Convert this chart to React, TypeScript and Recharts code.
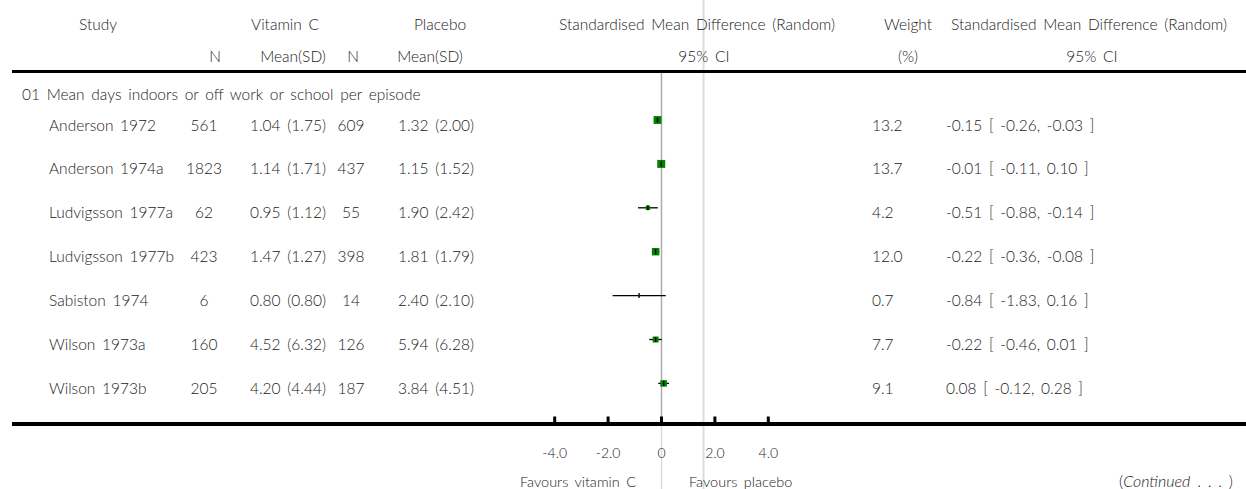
import React from 'react';
import { ScatterChart, Scatter, XAxis, YAxis, ErrorBar, ReferenceLine } from 'recharts';

// table data
const studies = ['Anderson 1972', 'Anderson 1974a', 'Ludvigsson 1977a', 'Ludvigsson 1977b', 'Sabiston 1974', 'Wilson 1973a', 'Wilson 1973b'];
const vitaminN = [561, 1823, 62, 423, 6, 160, 205];
const vitaminMeanSd = ['1.04 (1.75)', '1.14 (1.71)', '0.95 (1.12)', '1.47 (1.27)', '0.80 (0.80)', '4.52 (6.32)', '4.20 (4.44)'];
const placeboN = [609, 437, 55, 398, 14, 126, 187];
const placeboMeanSd = ['1.32 (2.00)', '1.15 (1.52)', '1.90 (2.42)', '1.81 (1.79)', '2.40 (2.10)', '5.94 (6.28)', '3.84 (4.51)'];
const weights = [13.2, 13.7, 4.2, 12.0, 0.7, 7.7, 9.1];
const smd = [-0.15, -0.01, -0.51, -0.22, -0.84, -0.22, 0.08];
const ciLow = [-0.26, -0.11, -0.88, -0.36, -1.83, -0.46, -0.12];
const ciHigh = [-0.03, 0.1, -0.14, -0.08, 0.16, 0.01, 0.28];
const xTicks = [-4, -2, 0, 2, 4];
const subgroup = '01 Mean days indoors or off work or school per episode';

const rows = studies.map((s, i) => ({
  row: i,
  smd: smd[i],
  err: [smd[i] - ciLow[i], ciHigh[i] - smd[i]],
  weight: weights[i],
}));

const W = 1246;
const H = 489;
const ROW0 = 120; // pixel centre of first study row
const ROW_H = 43.9;
const PLOT_TOP = 72;
const PLOT_BOTTOM = 424;
const toRow = (px: number) => (px - ROW0) / ROW_H;

const FONT = 'Lato, "Open Sans", sans-serif';
const INK = '#222';

function Txt({ x, y, align = 'left', size = 15.5, children, style }: any) {
  const tx = align === 'center' ? '-50%' : align === 'right' ? '-100%' : '0';
  return (
    <div
      style={{
        position: 'absolute',
        left: x,
        top: y,
        transform: `translate(${tx}, -50%)`,
        fontFamily: FONT,
        fontSize: size,
        fontWeight: 300,
        color: INK,
        lineHeight: 1,
        wordSpacing: 2.5,
        whiteSpace: 'pre',
        ...style,
      }}
    >
      {children}
    </div>
  );
}

const AxisTick = (props: any) => {
  const { x, y, payload } = props;
  const v = payload.value;
  return (
    <g>
      <line x1={x} x2={x} y1={y - 7.5} y2={y} stroke="#000" strokeWidth={3} />
      <text x={x} y={y + 28} textAnchor="middle" dominantBaseline="central" fontFamily={FONT} fontWeight={300} fontSize={14} fill={INK}>
        {v === 0 ? '0' : v.toFixed(1)}
      </text>
    </g>
  );
};

const Square = (props: any) => {
  const { cx, cy, payload } = props;
  const s = 2.15 * Math.sqrt(payload.weight);
  return <rect x={cx - s / 2} y={cy - s / 2} width={s} height={s} fill="#008000" />;
};

const PointTick = (props: any) => {
  const { cx, cy } = props;
  return <line x1={cx} x2={cx} y1={cy - 2.5} y2={cy + 2.5} stroke="#000" strokeWidth={1.3} />;
};

export default function App() {
  return (
    <div style={{ position: 'absolute', left: 0, top: 0, width: W, height: H, background: '#fff', overflow: 'hidden' }}>
      <ScatterChart width={W} height={H} margin={{ top: PLOT_TOP, right: 451, bottom: 0, left: 528 }} accessibilityLayer={false}>
        <XAxis
          type="number"
          dataKey="smd"
          domain={[-5, 5]}
          ticks={xTicks}
          allowDataOverflow
          height={H - PLOT_BOTTOM}
          axisLine={false}
          tickLine={false}
          tickSize={0}
          tickMargin={0}
          tick={<AxisTick />}
          interval={0}
        />
        <YAxis type="number" dataKey="row" domain={[toRow(PLOT_TOP), toRow(PLOT_BOTTOM)]} reversed allowDataOverflow hide />
        <ReferenceLine
          segment={[{ x: 1.575, y: toRow(0) }, { x: 1.575, y: toRow(H) }]}
          stroke="#dcdcdc"
          strokeWidth={2}
          ifOverflow="visible"
        />
        <ReferenceLine
          segment={[{ x: 0, y: toRow(PLOT_BOTTOM) }, { x: 0, y: toRow(H) }]}
          stroke="#dcdcdc"
          strokeWidth={1.5}
          ifOverflow="visible"
        />
        <ReferenceLine x={0} stroke="#acacac" strokeWidth={1.5} />
        <Scatter data={rows} shape={<Square />} isAnimationActive={false} />
        <Scatter data={rows} shape={<PointTick />} isAnimationActive={false}>
          <ErrorBar dataKey="err" direction="x" width={0} stroke="#000" strokeWidth={1.3} />
        </Scatter>
      </ScatterChart>

      {/* rules */}
      <div style={{ position: 'absolute', left: 12, top: 70.3, width: W - 12, height: 3, background: '#000' }} />
      <div style={{ position: 'absolute', left: 12, top: 422, width: W - 12, height: 4, background: '#000' }} />

      {/* header */}
      <Txt x={98} y={25} align="center">Study</Txt>
      <Txt x={285} y={25} align="center">Vitamin C</Txt>
      <Txt x={440} y={25} align="center">Placebo</Txt>
      <Txt x={697} y={25} align="center">Standardised Mean Difference (Random)</Txt>
      <Txt x={908} y={25} align="center">Weight</Txt>
      <Txt x={1089} y={25} align="center">Standardised Mean Difference (Random)</Txt>
      <Txt x={215} y={56.5} align="center">N</Txt>
      <Txt x={293} y={56.5} align="center">Mean(SD)</Txt>
      <Txt x={353} y={56.5} align="center">N</Txt>
      <Txt x={430} y={56.5} align="center">Mean(SD)</Txt>
      <Txt x={704} y={56.5} align="center">95% CI</Txt>
      <Txt x={908} y={56.5} align="center">(%)</Txt>
      <Txt x={1092} y={56.5} align="center">95% CI</Txt>

      <Txt x={22} y={95}>{subgroup}</Txt>

      {studies.map((s, i) => {
        const y = ROW0 + ROW_H * i + 5.5;
        return (
          <React.Fragment key={s}>
            <Txt x={49} y={y}>{s}</Txt>
            <Txt x={204} y={y} align="center">{vitaminN[i]}</Txt>
            <Txt x={250} y={y}>{vitaminMeanSd[i]}</Txt>
            <Txt x={351} y={y} align="center">{placeboN[i]}</Txt>
            <Txt x={398} y={y}>{placeboMeanSd[i]}</Txt>
            <Txt x={872} y={y}>{weights[i].toFixed(1)}</Txt>
            <Txt x={946} y={y}>
              {`${smd[i].toFixed(2)} [ ${ciLow[i].toFixed(2)}, ${ciHigh[i].toFixed(2)} ]`}
            </Txt>
          </React.Fragment>
        );
      })}

      <Txt x={636} y={481.5} align="right" size={14.5}>Favours vitamin C</Txt>
      <Txt x={689} y={481.5} size={14.5}>Favours placebo</Txt>
      <Txt x={1233} y={481} align="right" size={16}>
        (<i>Continued</i> . . . )
      </Txt>
    </div>
  );
}
